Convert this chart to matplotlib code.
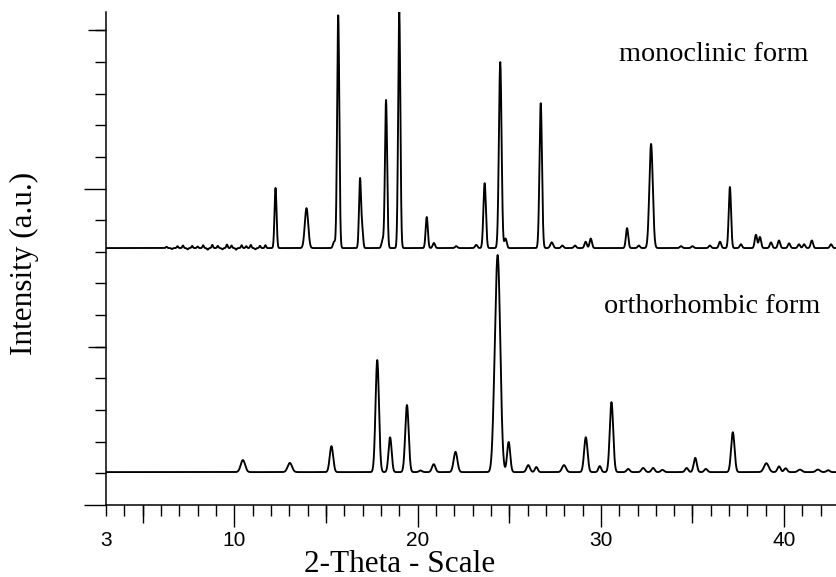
import numpy as np
import matplotlib
matplotlib.use("Agg")
import matplotlib.pyplot as plt
from matplotlib.ticker import MultipleLocator, FixedLocator, FuncFormatter, NullFormatter

# ---------------- data ----------------
# peak positions (2-theta, deg), heights (a.u.), FWHM (deg)
mono_pos = [6.3, 6.6, 6.9, 7.2, 7.45, 7.7, 8.0, 8.3, 8.55, 8.8, 9.1, 9.35,
            9.6, 9.85, 10.1, 10.4, 10.65, 10.9, 11.15, 11.4, 11.7,
            12.25, 13.94, 15.45, 15.67, 16.86, 16.98, 18.10, 18.28, 19.00,
            20.50, 20.89, 22.11, 23.20, 23.66, 24.51, 24.80, 26.72, 27.32,
            27.90, 28.59, 29.17, 29.45, 31.43, 32.07, 32.74, 34.37, 35.00,
            35.95, 36.50, 37.04, 37.64, 38.46, 38.68, 39.28, 39.72, 40.27,
            40.81, 41.09, 41.51, 42.56]
mono_height = [0.04, -0.03, 0.06, 0.08, -0.04, 0.07, 0.05, 0.09, -0.05, 0.10,
               0.07, -0.04, 0.11, 0.08, -0.05, 0.09, 0.06, 0.10, -0.04, 0.07, 0.09,
               1.90, 1.26, 0.20, 7.36, 2.18, 0.55, 0.25, 4.68, 7.50,
               0.98, 0.16, 0.06, 0.10, 2.05, 5.88, 0.30, 4.58, 0.18,
               0.08, 0.08, 0.20, 0.30, 0.63, 0.08, 3.29, 0.06, 0.06,
               0.08, 0.20, 1.93, 0.12, 0.42, 0.35, 0.18, 0.24, 0.15,
               0.12, 0.12, 0.24, 0.12]
mono_fwhm = [0.09] * 21 + [
    0.13, 0.22, 0.15, 0.14, 0.13, 0.12, 0.15, 0.14, 0.14,
    0.14, 0.15, 0.15, 0.15, 0.16, 0.17, 0.15, 0.16, 0.18,
    0.15, 0.15, 0.15, 0.15, 0.15, 0.15, 0.22, 0.15, 0.15,
    0.15, 0.15, 0.15, 0.15, 0.15, 0.15, 0.15, 0.15, 0.15,
    0.15, 0.15, 0.15, 0.15]

ortho_pos = [10.47, 13.03, 15.30, 17.80, 18.50, 19.42, 20.16, 20.88, 22.07,
             24.20, 24.38, 24.97, 26.04, 26.48, 27.99, 29.18, 29.94, 30.58,
             31.49, 32.31, 32.85, 33.36, 34.68, 35.15, 35.73, 37.20, 39.03,
             39.72, 40.08, 40.86, 41.84, 42.40]
ortho_height = [0.38, 0.29, 0.82, 3.54, 1.10, 2.12, 0.05, 0.25, 0.64,
                1.00, 6.60, 0.95, 0.22, 0.16, 0.22, 1.10, 0.19, 2.21,
                0.10, 0.13, 0.13, 0.07, 0.13, 0.45, 0.10, 1.26, 0.28,
                0.18, 0.12, 0.08, 0.08, 0.06]
ortho_fwhm = [0.28, 0.28, 0.22, 0.22, 0.20, 0.22, 0.20, 0.22, 0.24,
              0.25, 0.32, 0.20, 0.22, 0.18, 0.25, 0.22, 0.18, 0.22,
              0.20, 0.22, 0.20, 0.20, 0.20, 0.20, 0.20, 0.22, 0.30,
              0.20, 0.20, 0.25, 0.25, 0.20]

mono_offset = 8.12
ortho_offset = 1.04

x_major = [10, 20, 30, 40]
x_mid = [5, 15, 25, 35]
y_major = [0, 10]
y_mid = [5, 15]
x_min, x_max = 3, 42.83
y_min, y_max = 0, 15.58

labels = {"mono": "monoclinic form", "ortho": "orthorhombic form"}
xlabel = "2-Theta - Scale"
ylabel = "Intensity (a.u.)"

# ---------------- build profiles ----------------
tt = np.linspace(x_min, x_max, 6000)


def profile(pos, h, w, off):
    y = np.full_like(tt, off)
    for p, a, f in zip(pos, h, w):
        s = f / 2.3548
        y += a * np.exp(-0.5 * ((tt - p) / s) ** 2)
    return y


mono = profile(mono_pos, mono_height, mono_fwhm, mono_offset)
ortho = profile(ortho_pos, ortho_height, ortho_fwhm, ortho_offset)

# ---------------- figure ----------------
W, H = 836, 577
fig = plt.figure(figsize=(W / 100, H / 100), dpi=100)
ax = fig.add_axes([106 / W, (H - 505) / H, (W - 106) / W, 493 / H])
ax.set_xlim(x_min, x_max)
ax.set_ylim(y_min, y_max)

ax.plot(tt, mono, color="black", lw=1.35, clip_on=True)
ax.plot(tt, ortho, color="black", lw=1.35, clip_on=True)

for s in ("top", "right"):
    ax.spines[s].set_visible(False)
for s in ("left", "bottom"):
    ax.spines[s].set_linewidth(1.1)

px = 0.72  # points per pixel at dpi 100
tick_family = ["Liberation Sans", "DejaVu Sans"]

# x axis ticks
ax.xaxis.set_major_locator(FixedLocator(x_major))
ax.xaxis.set_minor_locator(MultipleLocator(1))
ax.xaxis.set_major_formatter(FuncFormatter(lambda v, p: f"{v:g}"))
ax.xaxis.set_minor_formatter(FuncFormatter(lambda v, p: "3" if abs(v - 3) < 1e-6 else ""))
ax.tick_params(axis="x", which="major", length=22 * px, width=1.0, pad=3.0,
               direction="out", labelsize=15, labelfontfamily=tick_family)
ax.tick_params(axis="x", which="minor", length=11 * px, width=1.0,
               pad=3.0 + 11 * px, direction="out", labelsize=15,
               labelfontfamily=tick_family)

secx = ax.secondary_xaxis("bottom")
secx.set_xticks(x_mid)
secx.xaxis.set_major_formatter(NullFormatter())
secx.tick_params(length=18 * px, width=1.0, direction="out")
secx.spines["bottom"].set_visible(False)

# y axis ticks (no labels)
ax.yaxis.set_major_locator(FixedLocator(y_major))
ax.yaxis.set_minor_locator(MultipleLocator(1))
ax.yaxis.set_major_formatter(NullFormatter())
ax.tick_params(axis="y", which="major", length=22 * px, width=1.0, direction="out")
ax.tick_params(axis="y", which="minor", length=11 * px, width=1.0, direction="out")

secy = ax.secondary_yaxis("left")
secy.set_yticks(y_mid)
secy.yaxis.set_major_formatter(NullFormatter())
secy.tick_params(length=18 * px, width=1.0, direction="out")
secy.spines["left"].set_visible(False)

serif = ["Liberation Serif", "DejaVu Serif"]


def fx(x):
    return x / W


def fy(y):
    return 1 - y / H


fig.text(fx(619), fy(61), labels["mono"], family=serif, size=20.3,
         ha="left", va="baseline")
fig.text(fx(604), fy(313), labels["ortho"], family=serif, size=20.3,
         ha="left", va="baseline")
fig.text(fx(304), fy(571.5), xlabel, family=serif, size=22.5,
         ha="left", va="baseline")
fig.text(fx(32), fy(263.5), ylabel, family=serif, size=22.5, rotation=90,
         rotation_mode="anchor", ha="center", va="baseline")

fig.savefig("out.png", dpi=100)
